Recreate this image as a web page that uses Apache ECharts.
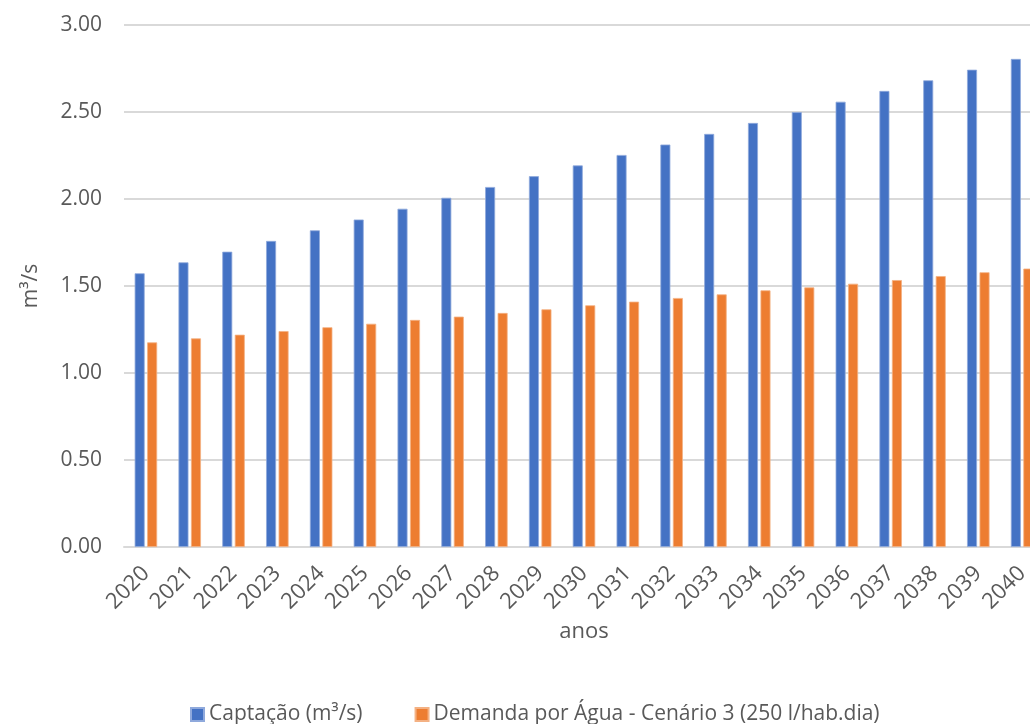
<!DOCTYPE html>
<html>
<head>
<meta charset="utf-8">
<script src="https://cdn.jsdelivr.net/npm/echarts@6/dist/echarts.min.js"></script>
<style>
  html, body { margin: 0; padding: 0; background: #ffffff; overflow: hidden; }
  #chart { width: 1030px; height: 724px; }
</style>
</head>
<body>
<div id="chart"></div>
<script>
// Anos do horizonte de planejamento
const anos = ['2020','2021','2022','2023','2024','2025','2026','2027','2028','2029','2030',
              '2031','2032','2033','2034','2035','2036','2037','2038','2039','2040'];

// Vazão de captação (m³/s)
const captacao = [1.573, 1.636, 1.697, 1.759, 1.820, 1.882, 1.944, 2.007, 2.069, 2.131, 2.193,
                  2.253, 2.313, 2.374, 2.437, 2.499, 2.559, 2.621, 2.682, 2.743, 2.805];

// Demanda por água - Cenário 3 (250 l/hab.dia), em m³/s
const demanda = [1.176, 1.199, 1.220, 1.241, 1.263, 1.283, 1.305, 1.324, 1.345, 1.366, 1.389,
                 1.410, 1.431, 1.452, 1.475, 1.492, 1.513, 1.534, 1.557, 1.579, 1.600];

const nomeSerieA = 'Captação (m³/s)';
const nomeSerieB = 'Demanda por Água - Cenário 3 (250 l/hab.dia)';

const FONT = 'Open Sans';
const TEXT = '#595959';
const GRID = '#d9d9d9';

const chart = echarts.init(document.getElementById('chart'), null, { renderer: 'canvas' });

chart.setOption({
  backgroundColor: '#ffffff',
  animation: false,
  textStyle: { fontFamily: FONT, color: TEXT },
  // plot area runs a little past the right edge of the canvas
  grid: { left: 124, width: 920, top: 25, height: 522, outerBoundsMode: 'none' },
  legend: {
    left: 185,
    top: 699,
    itemWidth: 13,
    itemHeight: 13,
    itemGap: 52,
    icon: 'rect',
    textStyle: { fontFamily: FONT, fontSize: 21, color: TEXT },
    data: [nomeSerieA, nomeSerieB]
  },
  xAxis: {
    type: 'category',
    data: anos,
    name: 'anos',
    nameLocation: 'middle',
    nameGap: 67,
    nameTextStyle: { fontFamily: FONT, fontSize: 22, color: TEXT },
    axisLine: { lineStyle: { color: GRID, width: 2 } },
    axisTick: { show: false },
    axisLabel: { rotate: 45, margin: 23, fontFamily: FONT, fontSize: 22, color: TEXT, interval: 0 }
  },
  yAxis: {
    type: 'value',
    min: 0,
    max: 3,
    interval: 0.5,
    name: 'm³/s',
    nameLocation: 'middle',
    nameGap: 82,
    nameTextStyle: { fontFamily: FONT, fontSize: 21, color: TEXT },
    axisLine: { show: false },
    axisTick: { show: false },
    splitLine: { lineStyle: { color: GRID, width: 2 } },
    axisLabel: {
      margin: 22,
      fontFamily: FONT,
      fontSize: 21,
      color: TEXT,
      formatter: v => v.toFixed(2)
    }
  },
  series: [
    {
      name: nomeSerieA,
      type: 'bar',
      data: captacao,
      barWidth: 10,
      barGap: '25%',
      itemStyle: { color: '#4472C4', borderColor: '#8fa9dc', borderWidth: 0.8 }
    },
    {
      name: nomeSerieB,
      type: 'bar',
      data: demanda,
      barWidth: 10,
      barGap: '25%',
      itemStyle: { color: '#ED7D31', borderColor: '#f4b183', borderWidth: 0.8 }
    }
  ]
});
</script>
</body>
</html>
